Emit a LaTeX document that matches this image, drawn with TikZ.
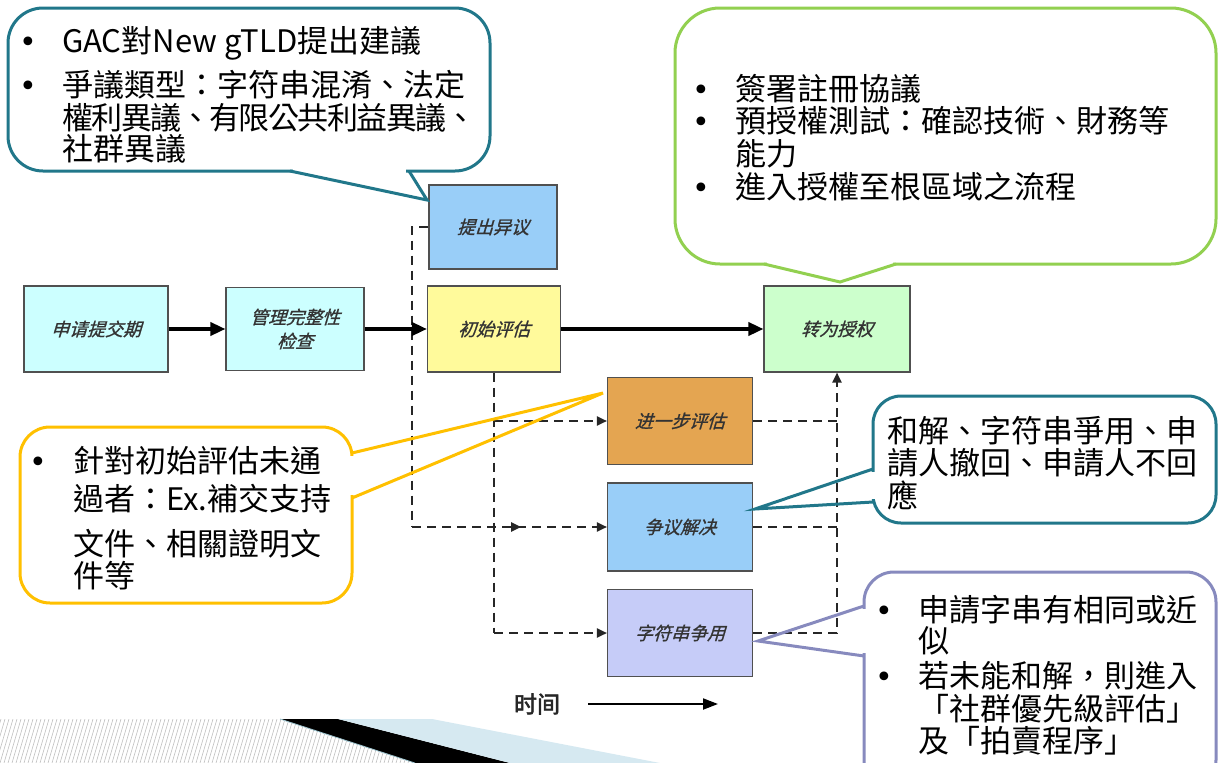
\documentclass[tikz,border=0pt]{standalone}
\usepackage{fontspec}
\usetikzlibrary{arrows.meta,decorations.markings}
\newfontfamily\tcfont{Noto Sans CJK TC}
\newfontfamily\bulfont{DejaVu Sans}
\newfontfamily\scitfont[FakeSlant=0.3,FakeBold=1]{Noto Sans CJK SC}
\newfontfamily\scbfont[FakeBold=2.5]{Noto Sans CJK SC}
\definecolor{tealc}{RGB}{33,119,138}
\definecolor{greenc}{RGB}{146,208,80}
\definecolor{yellowc}{RGB}{255,192,0}
\definecolor{purplec}{RGB}{135,138,190}
\definecolor{boxline}{RGB}{80,80,80}
\definecolor{cyanbox}{RGB}{204,255,255}
\definecolor{bluebox}{RGB}{153,206,248}
\definecolor{yellowbox}{RGB}{255,250,155}
\definecolor{greenbox}{RGB}{204,255,204}
\definecolor{orangebox}{RGB}{228,165,81}
\definecolor{lilacbox}{RGB}{198,204,248}
\definecolor{decoblue}{RGB}{214,233,241}
\begin{document}
\begin{tikzpicture}[x=1pt,y=-1pt,
  procbox/.style={draw=boxline, line width=1.1pt, inner sep=0pt, align=center,
    font=\scitfont\fontsize{18}{24}\selectfont, text=black!80},
  flowarrow/.style={line width=3.5pt, -{Triangle[length=15pt,width=13pt]}},
  dashline/.style={line width=2pt, draw=black!85, dash pattern=on 9pt off 6pt},
  dasharrow/.style={dashline, -{Triangle[length=10pt,width=9pt]}},
  calltext/.style={font=\tcfont\fontsize{31}{36}\selectfont, anchor=base west, inner sep=0pt, text=black},
  bulletnode/.style={font=\bulfont\fontsize{30}{34}\selectfont, anchor=base, inner sep=0pt, text=black},
  callbox/.style={line width=3pt, fill=white},
  callline/.style={line width=3pt}
]
\useasboundingbox (0,0) rectangle (1219,763);

% ---- bottom-left decoration ----
\begin{scope}
  \clip (0,719) -- (280,719) -- (415,763) -- (0,763) -- cycle;
  \foreach \i in {-24,-20,...,424} \draw[gray!50, line width=0.6pt] (\i,763) -- (\i+13,719);
\end{scope}
\fill[black] (280,719) -- (338,719) -- (510,763) -- (415,763) -- cycle;
\fill[decoblue] (338,719) -- (432,719) -- (660,763) -- (510,763) -- cycle;
\draw[decoblue!70!tealc, line width=0.8pt] (280,719) -- (415,763);

% ---- process boxes ----
\node[procbox, fill=cyanbox, minimum width=144pt, minimum height=86pt] (a1) at (96,329) {申请提交期};
\node[procbox, fill=cyanbox, minimum width=138pt, minimum height=83pt] (a2) at (295,329) {管理完整性\\检查};
\node[procbox, fill=yellowbox, minimum width=133pt, minimum height=86pt] (a3) at (494,329) {初始评估};
\node[procbox, fill=bluebox, minimum width=128pt, minimum height=84pt] (a4) at (493,227) {提出异议};
\node[procbox, fill=greenbox, minimum width=146pt, minimum height=86pt] (a5) at (837,329) {转为授权};
\node[procbox, fill=orangebox, minimum width=145pt, minimum height=87pt] (b1) at (680,421) {进一步评估};
\node[procbox, fill=bluebox, minimum width=145pt, minimum height=88pt] (b2) at (680,527) {争议解决};
\node[procbox, fill=lilacbox, minimum width=145pt, minimum height=87pt] (b3) at (680,633) {字符串争用};

% ---- dashed connectors ----
\coordinate (j1) at (412,527);
\coordinate (j2) at (494,421);
\coordinate (j3) at (494,633);
\coordinate (k1) at (837,421);
\coordinate (k2) at (837,527);
\coordinate (k3) at (837,633);
\draw[dashline] (a4.west) -| (j1);
\draw[dasharrow, decoration={markings, mark=at position 0.56 with {\arrow{Triangle[length=10pt,width=9pt]}}}, postaction={decorate}] (j1) -- (b2.west);
\draw[dashline] (a3.south) -- (j3);
\draw[dasharrow] (j3) -- (b3.west);
\draw[dasharrow] (j2) -- (b1.west);
\draw[dashline] (b1.east) -- (k1);
\draw[dashline] (b2.east) -- (k2);
\draw[dasharrow] (b3.east) -- (k3) -- (a5.south);

% ---- solid flow arrows ----
\draw[flowarrow] (a1) -- (a2);
\draw[flowarrow] (a2) -- (a3);
\draw[flowarrow] (a3) -- (a5);

% ---- time axis ----
\node[font=\scbfont\fontsize{23}{26}\selectfont, inner sep=0pt, text=black!85] (tlabel) at (537,704) {时间};
\coordinate (t0) at (588,704);
\coordinate (t1) at (718,704);
\draw[line width=2pt, -{Triangle[length=15pt,width=11pt]}] (t0) -- (t1);

% ---- callout: GAC (teal, top left) ----
\draw[callbox, draw=tealc, rounded corners=35pt] (8,8) rectangle (490,171);
\draw[white, line width=5pt] (293,171) -- (406,171);
\draw[callline, tealc] (290,171) -- (427,200) -- (409,171);
\node[bulletnode] (g0) at (28,52) {•};
\node[calltext] (g1) at (62,52) {GAC對New gTLD提出建議};
\node[bulletnode] (g2) at (28,96) {•};
\node[calltext] (g3) at (62,96) {爭議類型：字符串混淆、法定};
\node[calltext] (g4) at (62,129) {\addfontfeature{LetterSpace=-5}權利異議、有限公共利益異議、};
\node[calltext] (g5) at (62,160) {社群異議};

% ---- callout: green (top right) ----
\draw[callbox, draw=greenc, rounded corners=45pt] (675,8) rectangle (1216,264);
\draw[white, line width=5pt] (767,264) -- (893,264);
\draw[callline, greenc] (764,264) -- (840,282) -- (896,264);
\node[bulletnode] (r0) at (701,100) {•};
\node[calltext] (r1) at (735,100) {簽署註冊協議};
\node[bulletnode] (r2) at (701,132) {•};
\node[calltext] (r3) at (735,132) {預授權測試：確認技術、財務等};
\node[calltext] (r4) at (735,165) {能力};
\node[bulletnode] (r5) at (701,198) {•};
\node[calltext] (r6) at (735,198) {進入授權至根區域之流程};

% ---- callout: yellow (left) ----
\draw[callbox, draw=yellowc, rounded corners=30pt] (20,427) rectangle (352,603);
\draw[white, line width=5pt] (352,456) -- (352,495);
\draw[callline, yellowc] (352,453) -- (603,393) -- (352,498);
\node[bulletnode] (y0) at (38,472) {•};
\node[calltext] (y1) at (73,472) {針對初始評估未通};
\node[calltext] (y2) at (73,510) {過者：Ex.補交支持};
\node[calltext] (y3) at (73,555) {文件、相關證明文};
\node[calltext] (y4) at (73,587) {件等};

% ---- callout: teal (right) ----
\draw[callbox, draw=tealc, rounded corners=28pt] (873,396) rectangle (1216,523);
\draw[white, line width=5pt] (873,472) -- (873,499);
\draw[callline, tealc] (873,469) -- (755,509) -- (873,502);
\node[calltext] (m1) at (887,442) {和解、字符串爭用、申};
\node[calltext] (m2) at (887,474) {請人撤回、申請人不回};
\node[calltext] (m3) at (887,507) {應};

% ---- callout: purple (bottom right) ----
\draw[callbox, draw=purplec, rounded corners=30pt] (864,572) rectangle (1216,790);
\draw[white, line width=5pt] (864,609) -- (864,653);
\draw[callline, purplec] (864,606) -- (758,641) -- (864,656);
\node[bulletnode] (p0) at (884,621) {•};
\node[calltext] (p1) at (918,621) {申請字串有相同或近};
\node[calltext] (p2) at (918,652) {似};
\node[bulletnode] (p3) at (884,687) {•};
\node[calltext] (p4) at (918,687) {若未能和解，則進入};
\node[calltext] (p5) at (918,720) {「社群優先級評估」};
\node[calltext] (p6) at (918,752) {及「拍賣程序」};
\end{tikzpicture}
\end{document}
